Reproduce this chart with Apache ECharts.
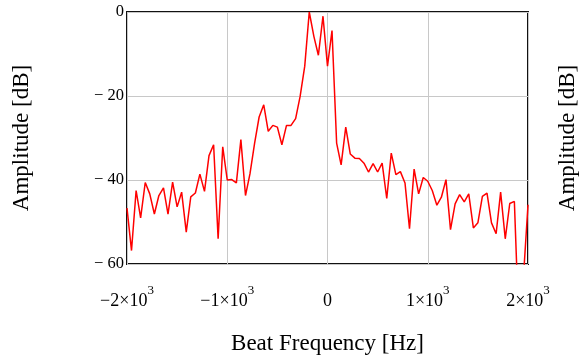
<!DOCTYPE html>
<html>
<head>
<meta charset="utf-8">
<script src="https://cdn.jsdelivr.net/npm/echarts@6/dist/echarts.min.js"></script>
<style>
  html, body { margin: 0; padding: 0; background: #fff; }
  #chart { width: 579px; height: 361px; }
</style>
</head>
<body>
<div id="chart"></div>
<script>
// beat frequency bins [Hz]
const freqHz = [
  -2000, -1955, -1909, -1864, -1818, -1773, -1727, -1682, -1636, -1591,
  -1545, -1500, -1455, -1409, -1364, -1318, -1273, -1227, -1182, -1136,
  -1091, -1045, -1000, -955, -909, -864, -818, -773, -727, -682,
  -636, -591, -545, -500, -455, -409, -364, -318, -273, -227,
  -182, -136, -91, -45, 0, 45, 91, 136, 182, 227,
  273, 318, 364, 409, 455, 500, 545, 591, 636, 682,
  727, 773, 818, 864, 909, 955, 1000, 1045, 1091, 1136,
  1182, 1227, 1273, 1318, 1364, 1409, 1455, 1500, 1545, 1591,
  1636, 1682, 1727, 1773, 1818, 1864, 1909, 1955, 2000
];

// amplitude [dB]
const amplitudeDb = [
  -46.7, -56.8, -42.5, -49.0, -40.6, -43.3, -48.1, -43.7, -41.9, -48.1,
  -40.5, -46.4, -42.9, -52.4, -44.0, -43.1, -38.6, -42.7, -34.2, -31.6,
  -54.0, -32.1, -40.0, -39.9, -40.7, -30.4, -43.7, -38.5, -31.2, -25.0,
  -22.1, -28.4, -27.0, -27.4, -31.6, -27.0, -27.0, -25.4, -20.1, -12.9,
  0.0, -5.8, -10.3, -1.0, -12.9, -4.4, -31.2, -36.4, -27.4, -33.8,
  -34.8, -34.9, -36.0, -38.1, -36.1, -38.1, -36.0, -44.4, -33.6, -38.7,
  -38.0, -40.7, -51.6, -37.4, -43.3, -39.4, -40.3, -42.5, -46.0, -44.1,
  -39.9, -51.8, -45.7, -43.5, -45.2, -43.3, -51.4, -50.2, -43.9, -43.1,
  -50.2, -52.8, -42.9, -54.0, -45.6, -45.1, -75.0, -63.0, -45.9
];

const xTicks = [-2000, -1000, 0, 1000, 2000];
const yTicks = [-60, -40, -20, 0];

const serif = '"Liberation Serif", "DejaVu Serif", serif';

const chart = echarts.init(document.getElementById('chart'));

const option = {
  backgroundColor: '#fff',
  animation: false,
  grid: {
    left: 127,
    right: 51,
    top: 12,
    bottom: 97,
    show: true,
    borderColor: '#111',
    borderWidth: 2,
    containLabel: false,
    outerBoundsMode: 'none'
  },
  xAxis: {
    type: 'value',
    min: xTicks[0],
    max: xTicks[xTicks.length - 1],
    interval: 1000,
    name: 'Beat Frequency [Hz]',
    nameLocation: 'middle',
    nameGap: 68,
    nameTextStyle: { fontFamily: serif, fontSize: 23, color: '#000' },
    axisLine: { show: false },
    axisTick: { show: false },
    splitLine: { show: true, lineStyle: { color: '#c8c8c8', width: 1 } },
    axisLabel: {
      margin: 20,
      formatter: v => {
        if (v === 0) return '{n|0}';
        const sign = v < 0 ? '−' : '';
        return '{n|' + sign + Math.abs(v / 1000) + '×10}{s|3}';
      },
      rich: {
        n: { fontFamily: serif, fontSize: 18, color: '#000', lineHeight: 26, verticalAlign: 'bottom' },
        s: { fontFamily: serif, fontSize: 13, color: '#000', lineHeight: 14, verticalAlign: 'top' }
      }
    }
  },
  yAxis: [
    {
      type: 'value',
      min: yTicks[0],
      max: yTicks[yTicks.length - 1],
      interval: 20,
      name: 'Amplitude [dB]',
      nameLocation: 'middle',
      nameRotate: 90,
      nameGap: 94,
      nameTextStyle: { fontFamily: serif, fontSize: 23, color: '#000' },
      axisLine: { show: false },
      axisTick: { show: false },
      splitLine: { show: true, lineStyle: { color: '#c8c8c8', width: 1 } },
      axisLabel: {
        margin: 3,
        fontFamily: serif,
        fontSize: 16.5,
        color: '#000',
        formatter: v => (v < 0 ? '− ' + Math.abs(v) : String(v))
      }
    },
    {
      type: 'value',
      position: 'right',
      min: yTicks[0],
      max: yTicks[yTicks.length - 1],
      interval: 20,
      name: 'Amplitude [dB]',
      nameLocation: 'middle',
      nameRotate: 90,
      nameGap: 28,
      nameTextStyle: { fontFamily: serif, fontSize: 23, color: '#000' },
      axisLine: { show: false },
      axisTick: { show: false },
      axisLabel: { show: false },
      splitLine: { show: false }
    }
  ],
  series: [
    {
      type: 'line',
      data: freqHz.map((f, i) => [f, amplitudeDb[i]]),
      showSymbol: false,
      clip: true,
      lineStyle: { color: '#ff0000', width: 1.5 }
    }
  ]
};

chart.setOption(option);
</script>
</body>
</html>
